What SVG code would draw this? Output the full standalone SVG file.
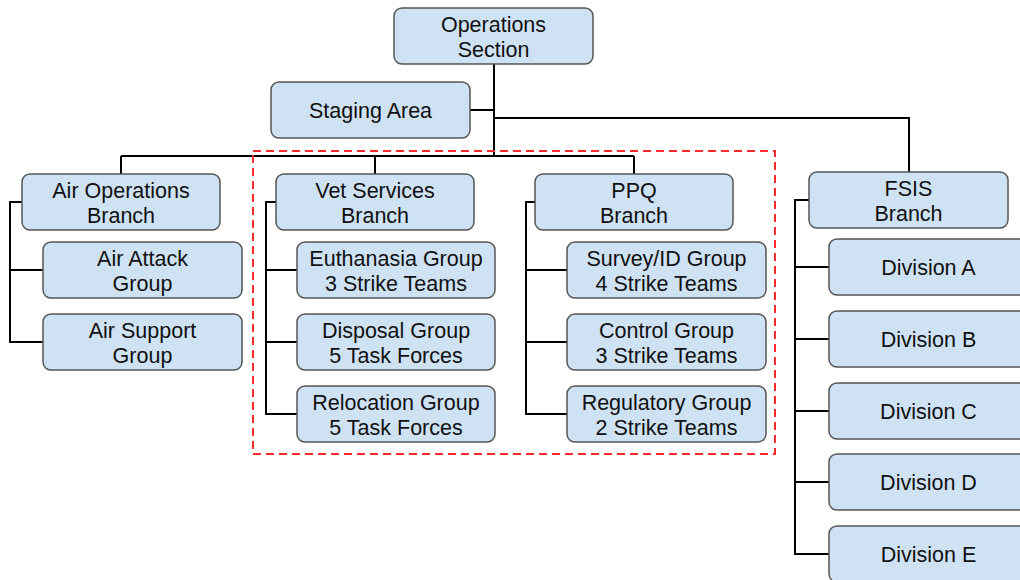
<svg xmlns="http://www.w3.org/2000/svg" width="1020" height="580" viewBox="0 0 1020 580">
<style>
.n rect{fill:#cfe2f3;stroke:#555;stroke-width:1.5}
.n text{font-family:"Liberation Sans",Arial,sans-serif;font-size:21.5px;fill:#111;text-anchor:middle}
.c{fill:none;stroke:#000;stroke-width:2}
</style>
<rect width="1020" height="580" fill="#fff"/>
<g id="connectors">
<path class="c" d="M494 64V156M470 110H494M494 118H909V172M121 156H634M121 156V174M375 156V174M634 156V174"/>
<path class="c" d="M22 202H10V342H43M10 270H43"/>
<path class="c" d="M276 202H266V414H297M266 270H297M266 342H297"/>
<path class="c" d="M535 202H526V414H567M526 270H567M526 342H567"/>
<path class="c" d="M809 200H795V554H829M795 267H829M795 339H829M795 411H829M795 482H829"/>
</g>
<rect x="253" y="151" width="522" height="303" fill="none" stroke="#ff2a2a" stroke-width="2" stroke-dasharray="8,5"/>
<g id="ops" class="n"><rect x="394" y="8" width="199" height="56" rx="8"/><text x="493.5" y="31.5">Operations</text><text x="493.5" y="56.5">Section</text></g>
<g id="staging" class="n"><rect x="271" y="82" width="199" height="56" rx="8"/><text x="370.5" y="117.5">Staging Area</text></g>
<g id="airops" class="n"><rect x="22" y="174" width="198" height="56" rx="8"/><text x="121" y="197.5">Air Operations</text><text x="121" y="222.5">Branch</text></g>
<g id="airattack" class="n"><rect x="43" y="242" width="199" height="56" rx="8"/><text x="142.5" y="265.5">Air Attack</text><text x="142.5" y="290.5">Group</text></g>
<g id="airsupport" class="n"><rect x="43" y="314" width="199" height="56" rx="8"/><text x="142.5" y="337.5">Air Support</text><text x="142.5" y="362.5">Group</text></g>
<g id="vet" class="n"><rect x="276" y="174" width="198" height="56" rx="8"/><text x="375" y="197.5">Vet Services</text><text x="375" y="222.5">Branch</text></g>
<g id="euth" class="n"><rect x="297" y="242" width="198" height="56" rx="8"/><text x="396" y="265.5">Euthanasia Group</text><text x="396" y="290.5">3 Strike Teams</text></g>
<g id="disposal" class="n"><rect x="297" y="314" width="198" height="56" rx="8"/><text x="396" y="337.5">Disposal Group</text><text x="396" y="362.5">5 Task Forces</text></g>
<g id="relocation" class="n"><rect x="297" y="386" width="198" height="56" rx="8"/><text x="396" y="409.5">Relocation Group</text><text x="396" y="434.5">5 Task Forces</text></g>
<g id="ppq" class="n"><rect x="535" y="174" width="198" height="56" rx="8"/><text x="634" y="197.5">PPQ</text><text x="634" y="222.5">Branch</text></g>
<g id="survey" class="n"><rect x="567" y="242" width="199" height="56" rx="8"/><text x="666.5" y="265.5">Survey/ID Group</text><text x="666.5" y="290.5">4 Strike Teams</text></g>
<g id="control" class="n"><rect x="567" y="314" width="199" height="56" rx="8"/><text x="666.5" y="337.5">Control Group</text><text x="666.5" y="362.5">3 Strike Teams</text></g>
<g id="regulatory" class="n"><rect x="567" y="386" width="199" height="56" rx="8"/><text x="666.5" y="409.5">Regulatory Group</text><text x="666.5" y="434.5">2 Strike Teams</text></g>
<g id="fsis" class="n"><rect x="809" y="172" width="199" height="56" rx="8"/><text x="908.5" y="195.5">FSIS</text><text x="908.5" y="220.5">Branch</text></g>
<g id="divA" class="n"><rect x="829" y="239" width="199" height="56" rx="8"/><text x="928.5" y="274.5">Division A</text></g>
<g id="divB" class="n"><rect x="829" y="311" width="199" height="56" rx="8"/><text x="928.5" y="346.5">Division B</text></g>
<g id="divC" class="n"><rect x="829" y="383" width="199" height="56" rx="8"/><text x="928.5" y="418.5">Division C</text></g>
<g id="divD" class="n"><rect x="829" y="454" width="199" height="56" rx="8"/><text x="928.5" y="489.5">Division D</text></g>
<g id="divE" class="n"><rect x="829" y="526" width="199" height="56" rx="8"/><text x="928.5" y="561.5">Division E</text></g>
</svg>
